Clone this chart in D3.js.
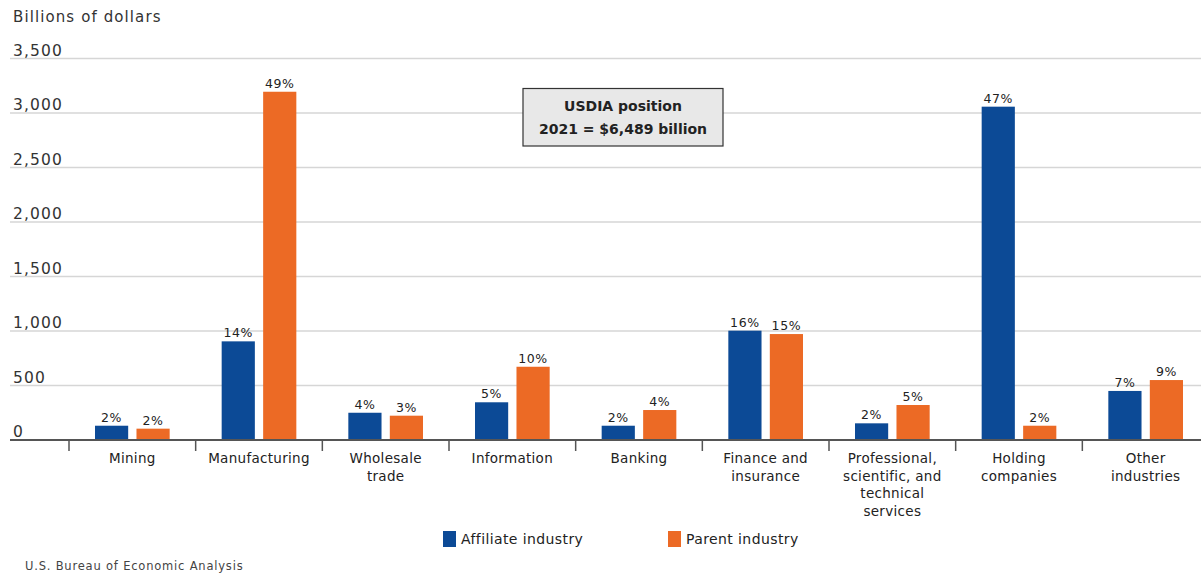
<!DOCTYPE html>
<html>
<head>
<meta charset="utf-8">
<script src="https://cdn.jsdelivr.net/npm/d3@7/dist/d3.min.js"></script>
<style>
  html, body { margin: 0; padding: 0; background: #fff; }
  svg { display: block; font-family: "DejaVu Sans", "Noto Sans", sans-serif; }
</style>
</head>
<body>
<svg id="chart" width="1201" height="574"></svg>
<script>
const categories = [
  ["Mining"],
  ["Manufacturing"],
  ["Wholesale", "trade"],
  ["Information"],
  ["Banking"],
  ["Finance and", "insurance"],
  ["Professional,", "scientific, and", "technical", "services"],
  ["Holding", "companies"],
  ["Other", "industries"]
];
const affiliateValues = [131, 905, 250, 346, 131, 1003, 153, 3058, 450];
const parentValues    = [104, 3195, 223, 672, 275, 972, 321, 131, 550];
const affiliateLabels = ["2%", "14%", "4%", "5%", "2%", "16%", "2%", "47%", "7%"];
const parentLabels    = ["2%", "49%", "3%", "10%", "4%", "15%", "5%", "2%", "9%"];
const yTicks = [0, 500, 1000, 1500, 2000, 2500, 3000, 3500];
const seriesNames = ["Affiliate industry", "Parent industry"];
const colors = ["#0c4a96", "#ec6a25"];

const svg = d3.select("#chart");
const x0 = d3.scaleBand().domain(d3.range(categories.length)).range([69, 1209]).paddingInner(0).paddingOuter(0);
const x1 = d3.scaleBand().domain([0, 1]).range([26, x0.bandwidth() - 26]).paddingInner(0.2);
const y = d3.scaleLinear().domain([0, 3500]).range([440, 58.5]);

// gridlines
svg.append("g").selectAll("line").data(yTicks.slice(1)).join("line")
  .attr("x1", 10).attr("x2", 1201)
  .attr("y1", d => y(d)).attr("y2", d => y(d))
  .attr("stroke", "#d6d6d6").attr("stroke-width", 1.5);

// y labels
svg.append("g").selectAll("text").data(yTicks).join("text")
  .attr("x", 13).attr("y", d => y(d) - 3)
  .attr("font-size", 15.5).attr("letter-spacing", 1.1).attr("fill", "#333")
  .text(d => d3.format(",")(d));

// title
svg.append("text").attr("x", 13).attr("y", 22).attr("font-size", 15).attr("letter-spacing", 1.1).attr("fill", "#333").text("Billions of dollars");

// bars
const groups = svg.append("g").selectAll("g").data(categories).join("g")
  .attr("transform", (d, i) => `translate(${x0(i)},0)`);
const series = [affiliateValues, parentValues];
const labels = [affiliateLabels, parentLabels];
groups.each(function(d, i) {
  const g = d3.select(this);
  [0, 1].forEach(s => {
    g.append("rect")
      .attr("x", x1(s)).attr("width", x1.bandwidth())
      .attr("y", y(series[s][i])).attr("height", y(0) - y(series[s][i]))
      .attr("fill", colors[s]);
    g.append("text")
      .attr("x", x1(s) + x1.bandwidth() / 2).attr("y", y(series[s][i]) - 4)
      .attr("text-anchor", "middle").attr("font-size", 12.5).attr("letter-spacing", 0.6).attr("fill", "#222")
      .text(labels[s][i]);
  });
});

// axis
const axisG = svg.append("g").attr("transform", "translate(0,440)");
axisG.append("line").attr("x1", 10).attr("x2", 1201).attr("y1", 0).attr("y2", 0).attr("stroke", "#555").attr("stroke-width", 2);
axisG.selectAll("line.tick").data(d3.range(categories.length)).join("line")
  .attr("class", "tick")
  .attr("x1", d => x0(d)).attr("x2", d => x0(d)).attr("y1", 0).attr("y2", 11)
  .attr("stroke", "#555").attr("stroke-width", 1.5);

// category labels
const catG = svg.append("g").selectAll("text").data(categories).join("text")
  .attr("x", (d, i) => x0(i) + x0.bandwidth() / 2)
  .attr("y", 463).attr("text-anchor", "middle").attr("font-size", 13.5).attr("letter-spacing", 0.3).attr("fill", "#222");
catG.each(function(lines) {
  d3.select(this).selectAll("tspan").data(lines).join("tspan")
    .attr("x", d3.select(this).attr("x"))
    .attr("dy", (d, j) => j === 0 ? 0 : 17.5)
    .text(d => d);
});

// annotation box
const box = svg.append("g");
box.append("rect").attr("x", 523).attr("y", 88.5).attr("width", 200).attr("height", 57.5)
  .attr("fill", "#e8e8e8").attr("stroke", "#333").attr("stroke-width", 1.2);
box.append("text").attr("x", 623).attr("y", 111).attr("text-anchor", "middle").attr("font-size", 14).attr("font-weight", "bold").attr("fill", "#222").text("USDIA position");
box.append("text").attr("x", 623).attr("y", 134).attr("text-anchor", "middle").attr("font-size", 14).attr("font-weight", "bold").attr("fill", "#222").text("2021 = $6,489 billion");

// legend
const legendX = [443, 668];
const leg = svg.append("g").selectAll("g").data(seriesNames).join("g")
  .attr("transform", (d, i) => `translate(${legendX[i]},531)`);
leg.append("rect").attr("width", 13).attr("height", 16).attr("fill", (d, i) => colors[i]);
leg.append("text").attr("x", 18).attr("y", 13).attr("font-size", 14).attr("letter-spacing", 0.4).attr("fill", "#222").text(d => d);

// source
svg.append("text").attr("x", 25).attr("y", 570).attr("font-size", 11.5).attr("letter-spacing", 0.8).attr("fill", "#444").text("U.S. Bureau of Economic Analysis");
</script>
</body>
</html>
